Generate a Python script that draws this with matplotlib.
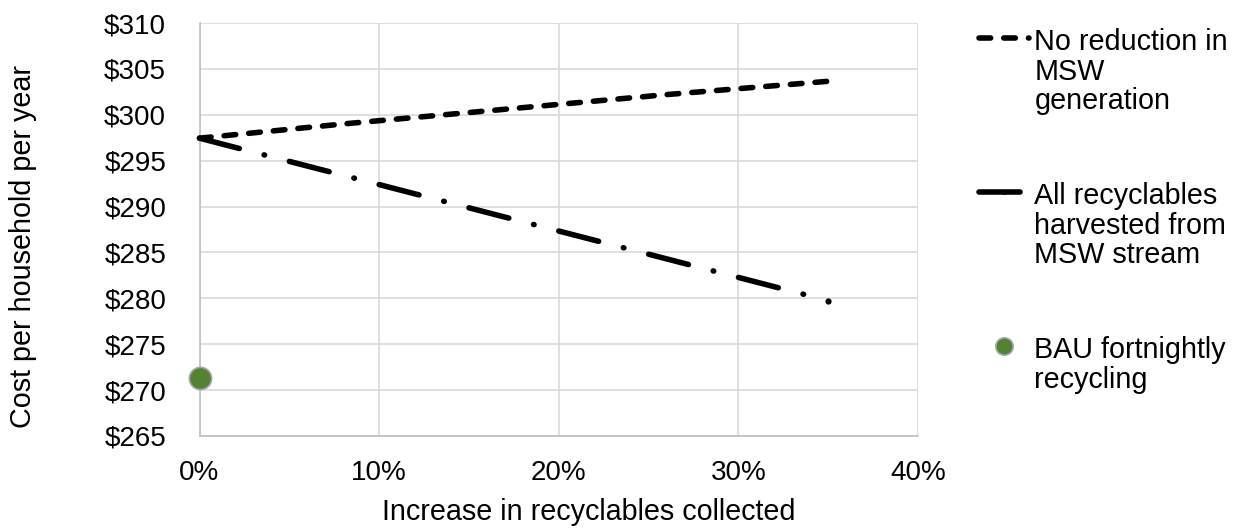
import matplotlib
matplotlib.use("Agg")
import matplotlib.pyplot as plt
from matplotlib.ticker import PercentFormatter, StrMethodFormatter, MultipleLocator

plt.rcParams['font.family'] = ['Liberation Sans', 'DejaVu Sans']

# ---- data ----
no_red_x = [0.0, 0.08, 0.26, 0.35]
no_red_y = [297.45, 299.0, 302.2, 303.65]
all_rec_x = [0.0, 0.35]
all_rec_y = [297.45, 279.75]
bau_x = [0.0]
bau_y = [271.27]

labels = ["No reduction in\nMSW\ngeneration",
          "All recyclables\nharvested from\nMSW stream",
          "BAU fortnightly\nrecycling"]
x_label = "Increase in recyclables collected"
y_label = "Cost per household per year"

FS = 20
FS_T = 20.7
W, H = 1240, 531
fig = plt.figure(figsize=(W / 100, H / 100), dpi=100)
ax = fig.add_axes([199.5 / W, 1 - 436 / H, (918 - 199.5) / W, (436 - 23) / H])

lw = 4.0
l1, = ax.plot(no_red_x, no_red_y, color='black', lw=lw, linestyle=(0, (2.1, 2.35)),
              dash_capstyle='round', solid_capstyle='round', clip_on=False, zorder=3)
l2, = ax.plot(all_rec_x, all_rec_y, color='black', lw=lw,
              linestyle=(0, (7.4, 4.6, 0.1, 4.6)),
              dash_capstyle='round', solid_capstyle='round', clip_on=False, zorder=3,
              marker='o', markersize=4.5, markevery=[-1], markeredgewidth=0,
              markerfacecolor='black')
l3, = ax.plot(bau_x, bau_y, linestyle='none', marker='o', markersize=16,
              markerfacecolor='#548235', markeredgecolor='#a6a6a6', markeredgewidth=1.2,
              clip_on=False, zorder=4)

ax.set_xlim(0, 0.40)
ax.set_ylim(265, 310)
ax.xaxis.set_major_locator(MultipleLocator(0.10))
ax.yaxis.set_major_locator(MultipleLocator(5))
ax.xaxis.set_major_formatter(PercentFormatter(xmax=1, decimals=0))
ax.yaxis.set_major_formatter(StrMethodFormatter('${x:.0f}'))
ax.tick_params(axis='both', length=0, labelsize=FS, colors='black')
ax.tick_params(axis='x', pad=17)
ax.tick_params(axis='y', pad=24)

ax.grid(True, color='#d9d9d9', lw=1.2)
ax.set_axisbelow(True)
for s in ['top', 'right']:
    ax.spines[s].set_visible(False)
for s in ['left', 'bottom']:
    ax.spines[s].set_color('#bfbfbf')
    ax.spines[s].set_linewidth(1.2)

ax.set_xlabel(x_label, fontsize=FS_T, va='center')
ax.xaxis.set_label_coords((589 - 199.5) / 718.5, (436 - 512) / 413)
ax.set_ylabel(y_label, fontsize=FS_T, va='center')
ax.yaxis.set_label_coords((23 - 199.5) / 718.5, (436 - 246) / 413)

leg = fig.legend([l1, l2, l3], labels, loc='upper left',
                 bbox_to_anchor=(978.7 / W, 1 - 28 / H), frameon=False,
                 fontsize=FS_T, borderpad=0, borderaxespad=0, handlelength=1.74,
                 handletextpad=0.2, labelspacing=2.33, markerscale=0.78)
for t in leg.get_texts():
    t.set_linespacing(1.07)
for col in leg._legend_handle_box.get_children():
    for row in col.get_children():
        row.align = 'top'

fig.savefig('out.png', dpi=100)
